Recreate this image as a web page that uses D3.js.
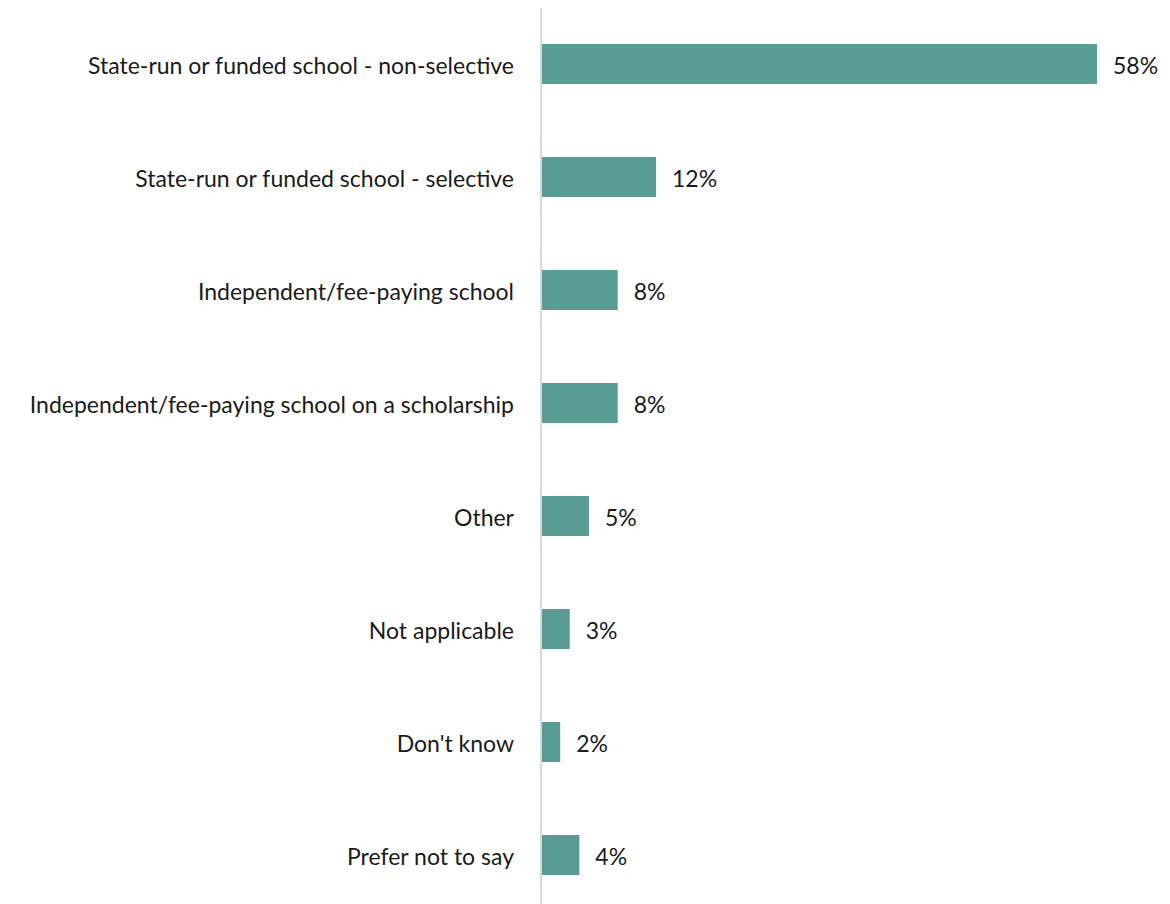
<!DOCTYPE html>
<html>
<head>
<meta charset="utf-8">
<script src="https://cdn.jsdelivr.net/npm/d3@7"></script>
<style>
  html, body { margin: 0; padding: 0; background: #ffffff; }
  svg { display: block; }
  text { font-family: Lato, "Open Sans", sans-serif; fill: #1a1a1a; }
</style>
</head>
<body>
<svg id="chart" width="1170" height="904"></svg>
<script>
// Type of school attended
const categories = [
  "State-run or funded school - non-selective",
  "State-run or funded school - selective",
  "Independent/fee-paying school",
  "Independent/fee-paying school on a scholarship",
  "Other",
  "Not applicable",
  "Don't know",
  "Prefer not to say"
];
const values = [58, 12, 8, 8, 5, 3, 2, 4];
const valueLabels = ["58%", "12%", "8%", "8%", "5%", "3%", "2%", "4%"];

const rows = categories.map((c, i) => ({ category: c, value: values[i], label: valueLabels[i] }));

const svg = d3.select("#chart");
const W = 1170, H = 904;
const axisX = 541;

const x = d3.scaleLinear().domain([0, 58]).range([axisX, 1097]);
const y = d3.scaleBand()
  .domain(categories)
  .range([7.5, 911.5])
  .paddingInner(0.646)
  .paddingOuter(0.323);

// bars
svg.append("g")
  .selectAll("rect")
  .data(rows)
  .join("rect")
  .attr("x", x(0))
  .attr("y", d => y(d.category))
  .attr("width", d => x(d.value) - x(0))
  .attr("height", y.bandwidth())
  .attr("fill", "#589c93");

// vertical baseline
svg.append("line")
  .attr("x1", axisX).attr("x2", axisX)
  .attr("y1", 8).attr("y2", H)
  .attr("stroke", "#d9d9d9")
  .attr("stroke-width", 2);

// category labels
svg.append("g")
  .selectAll("text")
  .data(rows)
  .join("text")
  .attr("x", 514)
  .attr("y", d => y(d.category) + y.bandwidth() / 2)
  .attr("dy", "0.42em")
  .attr("text-anchor", "end")
  .attr("font-size", 23)
  .text(d => d.category);

// value labels
svg.append("g")
  .selectAll("text")
  .data(rows)
  .join("text")
  .attr("x", d => x(d.value) + 16)
  .attr("y", d => y(d.category) + y.bandwidth() / 2)
  .attr("dy", "0.42em")
  .attr("font-size", 23)
  .text(d => d.label);
</script>
</body>
</html>
